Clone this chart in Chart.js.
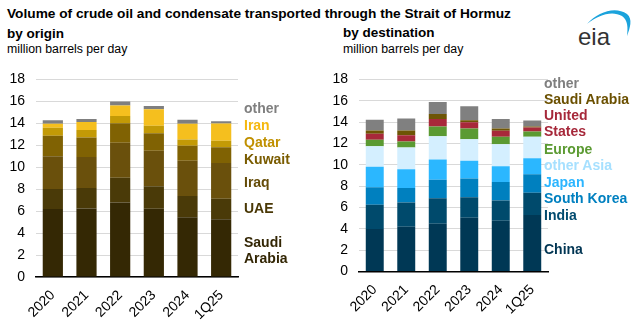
<!DOCTYPE html>
<html>
<head>
<meta charset="utf-8">
<script src="https://cdn.jsdelivr.net/npm/chart.js@4.4.1/dist/chart.umd.min.js"></script>
<style>
  body { margin: 0; background: #fff; font-family: Arial, "Liberation Sans", sans-serif; }
  #wrap { position: relative; width: 641px; height: 327px; overflow: hidden; }
  .t { position: absolute; white-space: nowrap; color: #000; }
  .title { font-weight: bold; font-size: 13.7px; left: 7px; top: 6px; }
  .sub { font-weight: bold; font-size: 13.5px; }
  .unit { font-size: 12.3px; }
  .lab { position: absolute; font-weight: bold; font-size: 14px; line-height: 16px; white-space: nowrap; }
  canvas { position: absolute; }
</style>
</head>
<body>
<div id="wrap">
  <div class="t title">Volume of crude oil and condensate transported through the Strait of Hormuz</div>
  <div class="t sub" style="left:7px;top:26px">by origin</div>
  <div class="t unit" style="left:7px;top:42px">million barrels per day</div>
  <div class="t sub" style="left:343px;top:25px">by destination</div>
  <div class="t unit" style="left:343px;top:42px">million barrels per day</div>

  <svg style="position:absolute;left:570px;top:0" width="71" height="55">
    <path d="M17,24 C28,12 45,6 57,14 C63,19 60,28 57,36 C58,28 58,20 52,16 C42,10 28,15 17,24 Z" fill="#1ba3dc"/>
    <text x="8" y="45" font-family="Arial, Liberation Sans, sans-serif" font-size="24" fill="#333">eia</text>
  </svg>

  <div style="position:absolute;left:0;top:60px;width:320px;height:267px"><canvas id="originChart"></canvas></div>
  <div style="position:absolute;left:320px;top:60px;width:321px;height:267px"><canvas id="destChart"></canvas></div>

  <div class="lab" style="left:244px;top:100px;color:#7f7f7f">other</div>
  <div class="lab" style="left:244px;top:117px;color:#f5b80f">Iran</div>
  <div class="lab" style="left:244px;top:134px;color:#c09000">Qatar</div>
  <div class="lab" style="left:244px;top:151px;color:#7a5c00">Kuwait</div>
  <div class="lab" style="left:244px;top:174px;color:#654c08">Iraq</div>
  <div class="lab" style="left:244px;top:200px;color:#4a3806">UAE</div>
  <div class="lab" style="left:244px;top:234px;color:#332604">Saudi<br>Arabia</div>

  <div class="lab" style="left:544px;top:75px;color:#7f7f7f">other</div>
  <div class="lab" style="left:544px;top:91px;color:#6b5000">Saudi Arabia</div>
  <div class="lab" style="left:544px;top:107px;color:#a6283a">United<br>States</div>
  <div class="lab" style="left:544px;top:141px;color:#5b9a32">Europe</div>
  <div class="lab" style="left:544px;top:157px;color:#a6e0ff">other Asia</div>
  <div class="lab" style="left:544px;top:174px;color:#2bb5ff">Japan</div>
  <div class="lab" style="left:544px;top:190px;color:#0080c0">South Korea</div>
  <div class="lab" style="left:544px;top:207px;color:#004a6e">India</div>
  <div class="lab" style="left:544px;top:241px;color:#003553">China</div>
</div>
<script>
const years = ["2020", "2021", "2022", "2023", "2024", "1Q25"];
const yTicks = [0, 2, 4, 6, 8, 10, 12, 14, 16, 18];

// crude by origin, million b/d
const saudiArabia = [6.19, 6.25, 6.78, 6.22, 5.45, 5.27];
const uae         = [1.83, 1.85, 2.27, 2.04, 1.92, 1.86];
const iraq        = [2.98, 2.84, 3.19, 3.24, 3.21, 3.25];
const kuwait      = [1.86, 1.77, 1.76, 1.60, 1.37, 1.44];
const qatar       = [0.74, 0.68, 0.66, 0.67, 0.58, 0.60];
const iran        = [0.35, 0.74, 0.97, 1.51, 1.42, 1.56];
const otherOrigin = [0.32, 0.26, 0.35, 0.29, 0.38, 0.21];

// crude by destination, million b/d
const china       = [3.98, 4.19, 4.49, 5.04, 4.76, 5.31];
const india       = [2.29, 2.27, 2.39, 1.93, 1.91, 2.08];
const southKorea  = [1.63, 1.38, 1.72, 1.75, 1.72, 1.72];
const japan       = [1.91, 1.75, 1.90, 1.66, 1.47, 1.51];
const otherAsia   = [1.93, 2.03, 2.17, 2.02, 2.06, 2.00];
const europe      = [0.61, 0.57, 0.91, 1.00, 0.72, 0.51];
const unitedStates= [0.57, 0.57, 0.72, 0.58, 0.55, 0.36];
const saudiDest   = [0.30, 0.46, 0.46, 0.20, 0.21, 0.09];
const otherDest   = [0.99, 1.12, 1.12, 1.30, 0.88, 0.58];

const FONT = "Arial, 'Liberation Sans', sans-serif";

function makeChart(id, datasets, axisW, axisH, padRight, barFrac) {
  const ds = datasets.map(([label, data, color]) => ({
    label, data, backgroundColor: color,
    barPercentage: barFrac, categoryPercentage: 1, borderWidth: 0,
  }));
  return new Chart(document.getElementById(id), {
    type: "bar",
    data: { labels: years, datasets: ds },
    options: {
      responsive: true,
      maintainAspectRatio: false,
      animation: false,
      layout: { padding: { top: 14, right: padRight, left: 0, bottom: 0 } },
      plugins: { legend: { display: false }, tooltip: { enabled: false } },
      scales: {
        x: {
          stacked: true,
          grid: { display: false },
          border: { display: true, color: "#000", width: 1.5 },
          ticks: { color: "#000", font: { family: FONT, size: 14 }, maxRotation: 45, minRotation: 45, padding: 2 },
          afterFit: (s) => { s.height = axisH; },
        },
        y: {
          stacked: true,
          min: 0, max: 18,
          afterBuildTicks: (s) => { s.ticks = yTicks.map((v) => ({ value: v })); },
          grid: { color: "#d9d9d9", lineWidth: 1, drawTicks: false },
          border: { display: false },
          ticks: { color: "#000", font: { family: FONT, size: 14 }, padding: 11 },
          afterFit: (s) => { s.width = axisW; },
        },
      },
    },
  });
}

makeChart("originChart", [
  ["Saudi Arabia", saudiArabia, "#342804"],
  ["UAE", uae, "#4a3a08"],
  ["Iraq", iraq, "#6a500c"],
  ["Kuwait", kuwait, "#806203"],
  ["Qatar", qatar, "#c39a06"],
  ["Iran", iran, "#f5bf1e"],
  ["other", otherOrigin, "#7f7f7f"],
], 36, 50, 82, 0.6);

makeChart("destChart", [
  ["China", china, "#003855"],
  ["India", india, "#004a6c"],
  ["South Korea", southKorea, "#0080bf"],
  ["Japan", japan, "#2bb7ff"],
  ["other Asia", otherAsia, "#d4efff"],
  ["Europe", europe, "#5b9a32"],
  ["United States", unitedStates, "#a8293a"],
  ["Saudi Arabia", saudiDest, "#6e5505"],
  ["other", otherDest, "#808080"],
], 39, 55.4, 93, 0.57);
</script>
</body>
</html>
